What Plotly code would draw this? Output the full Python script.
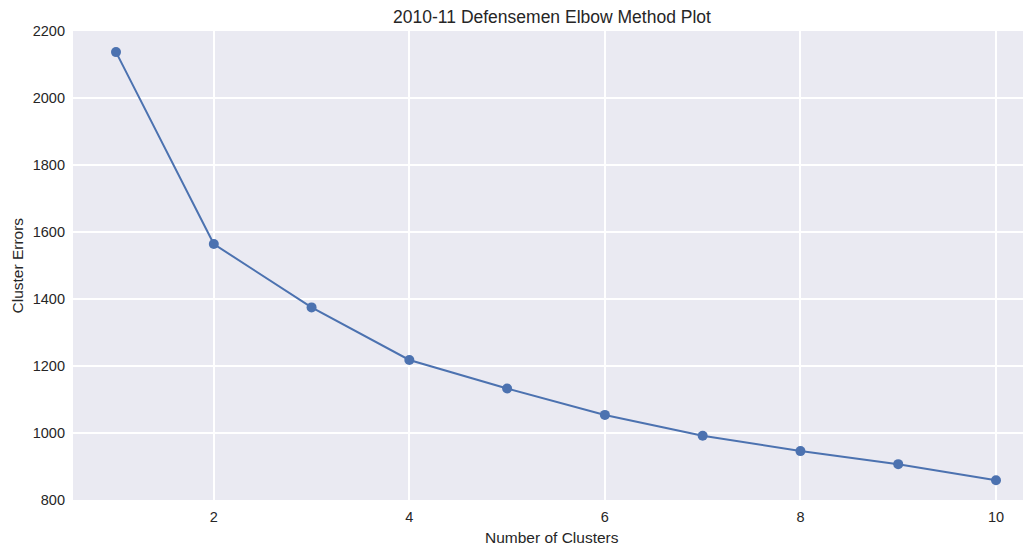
import plotly.graph_objects as go

clusters = [1, 2, 3, 4, 5, 6, 7, 8, 9, 10]
errors = [2137, 1564, 1375, 1218, 1133, 1054, 992, 946, 907, 859]

x_ticks = [2, 4, 6, 8, 10]
y_ticks = [800, 1000, 1200, 1400, 1600, 1800, 2000, 2200]

FONT = "Liberation Sans, Arial, sans-serif"
TXT = "#262626"

# page body has an 8px margin, so the figure is sized to fill the visible window
W, H = 1023, 542

fig = go.Figure(go.Scatter(
    x=clusters, y=errors, mode="lines+markers",
    line=dict(color="#4C72B0", width=2),
    marker=dict(color="#4C72B0", size=10),
    showlegend=False,
))

fig.update_layout(
    width=W, height=H,
    margin=dict(l=65, r=0, t=23, b=50),
    paper_bgcolor="white",
    plot_bgcolor="#EAEAF2",
    font=dict(family=FONT, color=TXT, size=14),
    title=dict(text="2010-11 Defensemen Elbow Method Plot", x=(65 + W) / 2 / W, xref="container",
               xanchor="center", y=1 - 9 / H, yref="container", yanchor="middle",
               font=dict(size=17.5, color=TXT)),
    annotations=[
        dict(text="Number of Clusters", xref="paper", yref="paper", x=0.5, y=0,
             yshift=-37, xanchor="center", yanchor="middle", showarrow=False,
             font=dict(size=15.5, color=TXT)),
        dict(text="Cluster Errors", xref="paper", yref="paper", x=0, y=0.5,
             xshift=-56, xanchor="center", yanchor="middle", showarrow=False, textangle=-90,
             font=dict(size=15.5, color=TXT)),
    ],
)
fig.update_xaxes(
    range=[0.56, 10.358], tickvals=x_ticks, showgrid=True, gridcolor="white", gridwidth=1.5,
    zeroline=False, showline=False, ticks="", tickfont=dict(size=14.5), automargin=False,
    ticklabelstandoff=6,
)
fig.update_yaxes(
    range=[800, 2200], tickvals=y_ticks, showgrid=True, gridcolor="white", gridwidth=1.5,
    zeroline=False, showline=False, ticks="", tickfont=dict(size=14.5), automargin=False,
    ticklabelstandoff=7,
)

fig.write_html("out.html")
